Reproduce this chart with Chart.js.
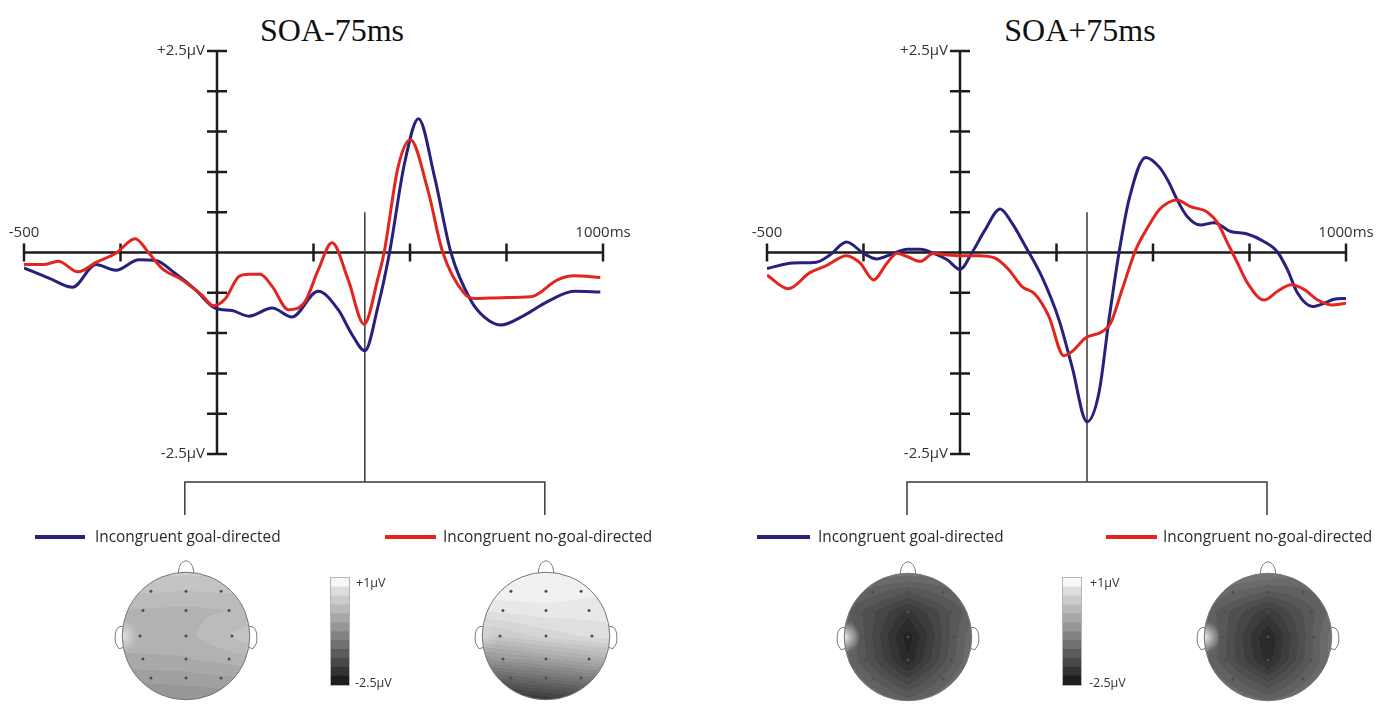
<!DOCTYPE html>
<html>
<head>
<meta charset="utf-8">
<script src="https://cdn.jsdelivr.net/npm/chart.js"></script>
<style>
  body { margin: 0; background: #fff; width: 1387px; height: 709px; overflow: hidden; position: relative; font-family: "Open Sans", sans-serif; }
  canvas { position: absolute; }
  .title { position: absolute; top: 14px; width: 300px; text-align: center; font-family: "Liberation Serif", serif; font-size: 32px; line-height: 32px; color: #111; }
  .leg { position: absolute; top: 526px; font-size: 15.4px; line-height: 22px; color: #2b2b2b; white-space: nowrap; }
  .swatch { position: absolute; top: 535px; height: 4px; }
  .cbl { position: absolute; font-size: 12.5px; line-height: 14px; color: #333; }
  .cbar { outline: 1px solid #b5b5b5; }
</style>
</head>
<body>
<div class="title" style="left:182px">SOA-75ms</div>
<div class="title" style="left:930px">SOA+75ms</div>

<canvas id="erpLeft" width="660" height="530" style="left:0;top:0"></canvas>
<canvas id="erpRight" width="644" height="530" style="left:743px;top:0"></canvas>

<div class="swatch" style="left:35px;width:50px;background:#27217e"></div>
<div class="leg" id="legL1" style="left:95px"></div>
<div class="swatch" style="left:385px;width:51px;background:#e2261f"></div>
<div class="leg" id="legL2" style="left:443px"></div>
<div class="swatch" style="left:757px;width:53px;background:#27217e"></div>
<div class="leg" id="legR1" style="left:818px"></div>
<div class="swatch" style="left:1106px;width:51px;background:#e2261f"></div>
<div class="leg" id="legR2" style="left:1163px"></div>

<canvas id="headA" width="170" height="170" style="left:101px;top:551px"></canvas>
<canvas id="headB" width="170" height="170" style="left:461px;top:551px"></canvas>
<canvas id="headC" width="170" height="170" style="left:823px;top:552px"></canvas>
<canvas id="headD" width="170" height="170" style="left:1183px;top:552px"></canvas>

<canvas id="cbLeft" class="cbar" width="18" height="107" style="left:331px;top:578px"></canvas>
<canvas id="cbRight" class="cbar" width="18" height="107" style="left:1063px;top:578px"></canvas>
<div class="cbl" id="cbL1" style="left:356px;top:576px"></div>
<div class="cbl" id="cbL2" style="left:355px;top:676px"></div>
<div class="cbl" id="cbR1" style="left:1090px;top:576px"></div>
<div class="cbl" id="cbR2" style="left:1089px;top:676px"></div>

<script>
const BLUE = '#27217e';
const RED = '#e2261f';

// axes
const xTicks = [-500, -250, 0, 250, 500, 750, 1000];
const yTicks = [-2.5, -2, -1.5, -1, -0.5, 0.5, 1, 1.5, 2, 2.5];
const xLabels = ['-500', '1000ms'];
const yLabels = ['+2.5µV', '-2.5µV'];
const legendLabels = ['Incongruent goal-directed', 'Incongruent no-goal-directed'];
const colorbarLabels = ['+1µV', '-2.5µV'];
const markers = [383, 329];   // ms of the topography

// SOA-75ms, goal-directed (blue)
const leftGoalTimes  = [-500, -434, -374, -314, -262, -202, -159, -108, -56, -5, 39, 82, 143, 194, 262, 314, 350, 383, 417, 447, 486, 522, 563, 606, 657, 692, 735, 796, 856, 925, 993];
const leftGoalValues = [-0.19, -0.32, -0.43, -0.15, -0.22, -0.09, -0.10, -0.26, -0.46, -0.69, -0.72, -0.79, -0.69, -0.80, -0.48, -0.71, -1.02, -1.22, -0.67, 0.0, 1.11, 1.66, 0.95, 0.0, -0.59, -0.80, -0.90, -0.78, -0.61, -0.48, -0.49];
// SOA-75ms, no-goal-directed (red)
const leftNoGoalTimes  = [-500, -450, -411, -360, -312, -262, -212, -176, -142, -90, -39, -9, 22, 56, 82, 112, 143, 185, 228, 262, 298, 340, 381, 418, 433, 469, 501, 546, 585, 641, 667, 740, 813, 882, 925, 993];
const leftNoGoalValues = [-0.15, -0.15, -0.11, -0.24, -0.12, -0.01, 0.17, -0.01, -0.20, -0.34, -0.53, -0.66, -0.57, -0.30, -0.27, -0.27, -0.42, -0.71, -0.61, -0.22, 0.12, -0.34, -0.89, -0.30, 0.0, 1.06, 1.40, 0.78, 0.0, -0.51, -0.57, -0.56, -0.55, -0.34, -0.29, -0.31];

// SOA+75ms, goal-directed (blue)
const rightGoalTimes  = [-500, -433, -372, -337, -294, -250, -216, -172, -137, -103, -68, -33, 0, 30, 65, 104, 134, 169, 212, 256, 290, 329, 360, 386, 412, 438, 481, 518, 540, 562, 588, 623, 658, 701, 744, 786, 822, 848, 874, 913, 943, 969, 1000];
const rightGoalValues = [-0.20, -0.13, -0.12, -0.03, 0.13, -0.01, -0.08, -0.01, 0.04, 0.04, -0.01, -0.09, -0.21, -0.01, 0.28, 0.54, 0.37, 0.08, -0.30, -0.83, -1.41, -2.10, -1.74, -0.83, 0.0, 0.66, 1.18, 1.05, 0.88, 0.66, 0.45, 0.34, 0.37, 0.26, 0.23, 0.14, 0.01, -0.21, -0.50, -0.67, -0.63, -0.58, -0.57];
// SOA+75ms, no-goal-directed (red)
const rightNoGoalTimes  = [-500, -445, -389, -345, -294, -259, -224, -189, -163, -137, -103, -68, -33, 0, 48, 91, 126, 160, 195, 230, 269, 290, 325, 369, 390, 420, 455, 490, 516, 540, 562, 597, 641, 667, 693, 719, 745, 788, 823, 858, 892, 927, 962, 1000];
const rightNoGoalValues = [-0.28, -0.45, -0.25, -0.16, -0.04, -0.13, -0.34, -0.13, -0.01, -0.05, -0.11, -0.01, -0.03, -0.04, -0.04, -0.07, -0.21, -0.42, -0.52, -0.79, -1.28, -1.23, -1.06, -0.98, -0.88, -0.46, 0.03, 0.34, 0.53, 0.62, 0.65, 0.57, 0.50, 0.37, 0.12, -0.13, -0.38, -0.59, -0.48, -0.40, -0.46, -0.59, -0.65, -0.63];

// topographies: electrode rows (front to back), 3 electrodes per row (left, mid, right)
const electrodeRows = [-0.70, -0.40, 0.0, 0.36, 0.66];
const electrodeHalfWidths = [0.55, 0.675, 0.72, 0.675, 0.55];
const headAValues = [[0.14, 0.12, 0.14], [-0.04, -0.06, -0.02], [-0.06, -0.07, 0.14], [-0.20, -0.18, -0.10], [-0.40, -0.38, -0.34]];
const headBValues = [[0.95, 0.95, 0.90], [0.75, 0.80, 0.78], [0.28, 0.48, 0.60], [-0.50, -0.35, -0.15], [-1.30, -1.15, -1.00]];
const headCValues = [[-1.42, -1.62, -1.42], [-1.66, -2.12, -1.62], [-1.58, -2.44, -1.55], [-1.60, -2.32, -1.55], [-1.46, -1.90, -1.44]];
const headDValues = [[-1.32, -1.52, -1.38], [-1.58, -2.02, -1.52], [-1.55, -2.38, -1.46], [-1.60, -2.28, -1.50], [-1.44, -1.84, -1.40]];

// colour scale, bottom (-2.5µV) to top (+1µV)
const colorbarShades = ['#1e1e1e', '#333333', '#484848', '#5c5c5c', '#707070', '#838383', '#969696', '#a8a8a8', '#bababa', '#cbcbcb', '#dddddd', '#f7f7f7'];

document.getElementById('legL1').textContent = legendLabels[0];
document.getElementById('legL2').textContent = legendLabels[1];
document.getElementById('legR1').textContent = legendLabels[0];
document.getElementById('legR2').textContent = legendLabels[1];
document.getElementById('cbL1').textContent = colorbarLabels[0];
document.getElementById('cbL2').textContent = colorbarLabels[1];
document.getElementById('cbR1').textContent = colorbarLabels[0];
document.getElementById('cbR2').textContent = colorbarLabels[1];

const erpAxes = {
    id: 'erpAxes',
    beforeDatasetsDraw(chart, args, opts) {
        const { ctx, scales: { x, y } } = chart;
        const x0 = x.getPixelForValue(0), y0 = y.getPixelForValue(0);
        ctx.save();
        ctx.strokeStyle = '#1c1c1c';
        ctx.lineWidth = 2.5;
        ctx.beginPath();
        ctx.moveTo(x.getPixelForValue(xTicks[0]), y0);
        ctx.lineTo(x.getPixelForValue(xTicks[xTicks.length - 1]), y0);
        ctx.moveTo(x0, y.getPixelForValue(2.5));
        ctx.lineTo(x0, y.getPixelForValue(-2.5));
        xTicks.forEach(t => {
            if (t === 0) return;
            const px = x.getPixelForValue(t);
            ctx.moveTo(px, y0 - 9);
            ctx.lineTo(px, y0 + 9);
        });
        yTicks.forEach(v => {
            const py = y.getPixelForValue(v);
            ctx.moveTo(x0 - 10, py);
            ctx.lineTo(x0 + 10, py);
        });
        ctx.stroke();

        ctx.fillStyle = '#333';
        ctx.font = '15px "Open Sans"';
        ctx.textAlign = 'right';
        ctx.textBaseline = 'middle';
        ctx.fillText(yLabels[0], x0 - 12, y.getPixelForValue(2.5));
        ctx.fillText(yLabels[1], x0 - 12, y.getPixelForValue(-2.5));
        ctx.textAlign = 'center';
        ctx.textBaseline = 'alphabetic';
        ctx.fillText(xLabels[0], x.getPixelForValue(xTicks[0]), y0 - 16);
        ctx.fillText(xLabels[1], x.getPixelForValue(xTicks[xTicks.length - 1]), y0 - 16);

        // time of the maps + bracket down to them
        const mx = x.getPixelForValue(opts.marker);
        const by = chart.chartArea.bottom + 28;
        ctx.strokeStyle = '#3a3a3a';
        ctx.lineWidth = 1.5;
        ctx.beginPath();
        ctx.moveTo(mx, y.getPixelForValue(0.5));
        ctx.lineTo(mx, by);
        ctx.moveTo(mx - 180, by + 33);
        ctx.lineTo(mx - 180, by);
        ctx.lineTo(mx + 180, by);
        ctx.lineTo(mx + 180, by + 33);
        ctx.stroke();
        ctx.restore();
    }
};

function points(times, values) {
    return times.map((t, i) => ({ x: t, y: values[i] }));
}

function makeErp(id, goalT, goalV, noT, noV, marker, padRight) {
    return new Chart(document.getElementById(id), {
        type: 'line',
        data: {
            datasets: [{
                label: legendLabels[1],
                data: points(noT, noV),
                borderColor: RED,
                borderWidth: 3,
                pointRadius: 0,
                cubicInterpolationMode: 'monotone',
                fill: false
            },
            {
                label: legendLabels[0],
                data: points(goalT, goalV),
                borderColor: BLUE,
                borderWidth: 3,
                pointRadius: 0,
                cubicInterpolationMode: 'monotone',
                fill: false
            }]
        },
        options: {
            responsive: false,
            animation: false,
            events: [],
            layout: { padding: { left: 24, right: padRight, top: 51, bottom: 76 } },
            scales: {
                x: { type: 'linear', display: false, min: -500, max: 1000 },
                y: { type: 'linear', display: false, min: -2.5, max: 2.5 }
            },
            plugins: {
                legend: { display: false },
                tooltip: { enabled: false },
                erpAxes: { marker: marker }
            }
        },
        plugins: [erpAxes]
    });
}

makeErp('erpLeft', leftGoalTimes, leftGoalValues, leftNoGoalTimes, leftNoGoalValues, markers[0], 57);
makeErp('erpRight', rightGoalTimes, rightGoalValues, rightNoGoalTimes, rightNoGoalValues, markers[1], 41);

// ---- topographic maps ----
function rowValue(vals, r, x) {
    const c = vals[r][1], w = electrodeHalfWidths[r];
    return x < 0 ? c + (vals[r][0] - c) * (-x / w) : c + (vals[r][2] - c) * (x / w);
}

function fieldAt(vals, x, yd) {
    const R = electrodeRows;
    let r = 0;
    while (r < R.length - 2 && yd > R[r + 1]) r++;
    const f = (yd - R[r]) / (R[r + 1] - R[r]);
    const v = rowValue(vals, r, x) * (1 - f) + rowValue(vals, r + 1, x) * f;
    return Math.max(-2.5, Math.min(1, v));
}

function grayOf(v) {
    const k = Math.max(0, Math.min(23, Math.floor((v + 2.5) / 3.5 * 24)));
    return Math.round(30 + (k + 0.5) / 24 * 215);
}

const headMap = {
    id: 'headMap',
    beforeDatasetsDraw(chart, args, opts) {
        const { ctx, scales: { x, y } } = chart;
        const cx = x.getPixelForValue(0), cy = y.getPixelForValue(0);
        const r = x.getPixelForValue(1) - cx;
        const size = Math.ceil(2 * r) + 4;
        const ox = Math.floor(cx - r) - 2, oy = Math.floor(cy - r) - 2;
        const off = document.createElement('canvas');
        off.width = off.height = size;
        const octx = off.getContext('2d');
        const img = octx.createImageData(size, size);
        for (let j = 0; j < size; j++) {
            for (let i = 0; i < size; i++) {
                const X = x.getValueForPixel(ox + i + 0.5);
                const Yd = -y.getValueForPixel(oy + j + 0.5);
                const g = grayOf(fieldAt(opts.values, X, Yd));
                const p = (j * size + i) * 4;
                img.data[p] = img.data[p + 1] = img.data[p + 2] = g;
                img.data[p + 3] = 255;
            }
        }
        octx.putImageData(img, 0, 0);

        ctx.save();
        ctx.beginPath();
        ctx.arc(cx, cy, r, 0, Math.PI * 2);
        ctx.clip();
        ctx.drawImage(off, ox, oy);
        const ex = x.getPixelForValue(-1);
        const glow = ctx.createRadialGradient(ex, cy, 0, ex, cy, 0.25 * r);
        glow.addColorStop(0, 'rgba(255,255,255,' + opts.glow + ')');
        glow.addColorStop(1, 'rgba(255,255,255,0)');
        ctx.fillStyle = glow;
        ctx.fillRect(ex - r, cy - r, 2 * r, 2 * r);
        ctx.restore();

        ctx.save();
        ctx.strokeStyle = '#777';
        ctx.lineWidth = 1;
        ctx.beginPath();
        ctx.arc(cx, cy, r, 0, Math.PI * 2);
        ctx.stroke();
        // nose
        ctx.beginPath();
        ctx.moveTo(cx - 0.12 * r, cy - 0.99 * r);
        ctx.bezierCurveTo(cx - 0.11 * r, cy - 1.24 * r, cx + 0.11 * r, cy - 1.24 * r, cx + 0.12 * r, cy - 0.99 * r);
        ctx.stroke();
        // ears
        [-1, 1].forEach(s => {
            ctx.beginPath();
            ctx.moveTo(cx + s * 0.99 * r, cy - 0.15 * r);
            ctx.bezierCurveTo(cx + s * 1.13 * r, cy - 0.17 * r, cx + s * 1.12 * r, cy + 0.05 * r, cx + s * 1.1 * r, cy + 0.12 * r);
            ctx.lineTo(cx + s * 1.05 * r, cy + 0.2 * r);
            ctx.lineTo(cx + s * 0.985 * r, cy + 0.18 * r);
            ctx.stroke();
        });
        ctx.restore();
    }
};

const electrodePoints = [];
electrodeRows.forEach((row, r) => {
    [-1, 0, 1].forEach(s => electrodePoints.push({ x: s * electrodeHalfWidths[r], y: -row }));
});

function makeHead(id, values, glow) {
    return new Chart(document.getElementById(id), {
        type: 'scatter',
        data: {
            datasets: [{
                data: electrodePoints,
                pointRadius: 1.5,
                backgroundColor: '#4d4d4d',
                borderWidth: 0
            }]
        },
        options: {
            responsive: false,
            animation: false,
            events: [],
            layout: { padding: 0 },
            scales: {
                x: { type: 'linear', display: false, min: -1.27, max: 1.27 },
                y: { type: 'linear', display: false, min: -1.27, max: 1.27 }
            },
            plugins: {
                legend: { display: false },
                tooltip: { enabled: false },
                headMap: { values: values, glow: glow }
            }
        },
        plugins: [headMap]
    });
}

makeHead('headA', headAValues, 0.6);
makeHead('headB', headBValues, 0.3);
makeHead('headC', headCValues, 0.85);
makeHead('headD', headDValues, 0.85);

function makeColorbar(id) {
    return new Chart(document.getElementById(id), {
        type: 'bar',
        data: {
            labels: [''],
            datasets: colorbarShades.map(c => ({
                data: [1],
                backgroundColor: c,
                borderWidth: 0,
                barPercentage: 1,
                categoryPercentage: 1
            }))
        },
        options: {
            responsive: false,
            animation: false,
            events: [],
            layout: { padding: 0 },
            scales: {
                x: { stacked: true, display: false },
                y: { stacked: true, display: false, min: 0, max: colorbarShades.length }
            },
            plugins: { legend: { display: false }, tooltip: { enabled: false } }
        }
    });
}

makeColorbar('cbLeft');
makeColorbar('cbRight');
</script>
</body>
</html>
